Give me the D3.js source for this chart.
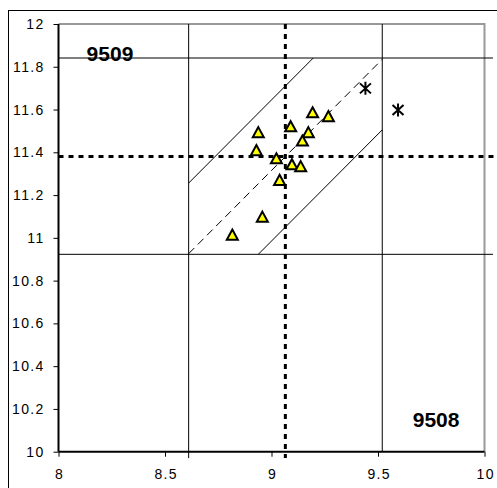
<!DOCTYPE html>
<html>
<head>
<meta charset="utf-8">
<script src="https://cdn.jsdelivr.net/npm/d3@7"></script>
<style>
    body { margin: 0; background: #fff; }
    svg { display: block; font-family: Arial, "Liberation Sans", sans-serif; }
    .axis text { font-size: 14px; letter-spacing: 1.3px; fill: #000; }
    .etiqueta { font-size: 21px; font-weight: bold; fill: #000; }
</style>
</head>
<body>
<div id="graf"></div>
<script>
// Datos
const triX = [9.193, 9.267, 9.090, 8.938, 9.173, 9.145, 8.929, 9.023, 9.096, 9.137, 9.038, 8.957, 8.816];
const triY = [11.585, 11.567, 11.520, 11.492, 11.492, 11.453, 11.408, 11.370, 11.342, 11.333, 11.269, 11.097, 11.013];
const starX = [9.441, 9.594];
const starY = [11.699, 11.598];

const meanX = 9.065;
const meanY = 11.38;
const boxX = [8.611, 9.520];
const boxY = [10.923, 11.841];
const bandOffset = 0.33;

const xTicks = [8, 8.5, 9, 9.5, 10];
const yTicks = [10, 10.2, 10.4, 10.6, 10.8, 11, 11.2, 11.4, 11.6, 11.8, 12];
const labels = [
    { text: "9509", x: 8.132, y: 11.828 },
    { text: "9508", x: 9.663, y: 10.114 },
];

// Dimensiones
const anchoTotal = 497, altoTotal = 488;
const margins = { top: 24, left: 58.5, right: 12.5, bottom: 36.3 };
const ancho = anchoTotal - margins.left - margins.right;
const alto = altoTotal - margins.top - margins.bottom;

const svg = d3.select("#graf").append("svg")
    .attr("width", anchoTotal)
    .attr("height", altoTotal);

svg.append("rect").attr("width", anchoTotal).attr("height", altoTotal).attr("fill", "#fff");
// borde exterior
svg.append("rect")
    .attr("x", 8.5).attr("y", 10.5)
    .attr("width", 600).attr("height", 600)
    .attr("fill", "none").attr("stroke", "#000").attr("stroke-width", 1);

const g = svg.append("g").attr("transform", `translate(${margins.left}, ${margins.top})`);

// Escaladores
const x = d3.scaleLinear().domain([8, 10]).range([0, ancho]);
const y = d3.scaleLinear().domain([10, 12]).range([alto, 0]);

// borde del área (gris)
g.append("path")
    .attr("d", `M0,0H${ancho}V${alto}`)
    .attr("fill", "none").attr("stroke", "#999").attr("stroke-width", 2);

const line = d3.line().x((d) => x(d[0])).y((d) => y(d[1]));

// líneas guía sólidas
const solid = [
    [[8, boxY[1]], [10.04, boxY[1]]],
    [[8, boxY[0]], [10.04, boxY[0]]],
    [[boxX[0], 12], [boxX[0], 9.97]],
    [[boxX[1], 12], [boxX[1], 10]],
];
// banda diagonal (recortada a la caja)
const c = meanY - meanX;
const clipDiag = (off) => {
    const k = c + off;
    const x0 = Math.max(boxX[0], boxY[0] - k);
    const x1 = Math.min(boxX[1], boxY[1] - k);
    return [[x0, x0 + k], [x1, x1 + k]];
};
solid.push(clipDiag(bandOffset), clipDiag(-bandOffset));

g.selectAll(".solid").data(solid).enter().append("path")
    .attr("class", "solid")
    .attr("d", line)
    .attr("fill", "none").attr("stroke", "#000").attr("stroke-width", 1);

g.append("path")
    .attr("d", line(clipDiag(0)))
    .attr("fill", "none").attr("stroke", "#000").attr("stroke-width", 1)
    .attr("stroke-dasharray", "8,5");

// medias (punteadas)
g.append("path")
    .attr("d", line([[8, meanY], [10.06, meanY]]))
    .attr("stroke", "#000").attr("stroke-width", 3).attr("stroke-dasharray", "5,5");
g.append("path")
    .attr("d", line([[meanX, 12], [meanX, 9.97]]))
    .attr("stroke", "#000").attr("stroke-width", 3).attr("stroke-dasharray", "5,5");

// Ejes
const fmt = (d) => String(+d.toFixed(1));
const yAxis = g.append("g").classed("axis", true)
    .call(d3.axisLeft(y).tickValues(yTicks).tickSize(5).tickPadding(9).tickFormat(fmt));
const xAxis = g.append("g").classed("axis", true)
    .attr("transform", `translate(0, ${alto})`)
    .call(d3.axisBottom(x).tickValues(xTicks).tickSize(5).tickPadding(12).tickFormat(fmt));
[yAxis, xAxis].forEach((a) => {
    a.select(".domain").attr("stroke", "#000").attr("stroke-width", 2);
    a.selectAll(".tick line").attr("stroke", "#000").attr("stroke-width", 1);
});
yAxis.select(".domain").attr("d", `M0,0V${alto}`);
xAxis.select(".domain").attr("d", `M0,0H${ancho}`);
xAxis.selectAll(".tick text").attr("dx", "0.65px");

// Triángulos
const triData = triX.map((v, i) => [v, triY[i]]);
g.selectAll(".tri").data(triData).enter().append("path")
    .attr("class", "tri")
    .attr("transform", (d) => `translate(${x(d[0])}, ${y(d[1])})`)
    .attr("d", "M0,-5.5L5.5,4.6L-5.5,4.6Z")
    .attr("fill", "#ffff00").attr("stroke", "#000").attr("stroke-width", 2)
    .attr("stroke-linejoin", "miter");

// Asteriscos
const starData = starX.map((v, i) => [v, starY[i]]);
g.selectAll(".star").data(starData).enter().append("path")
    .attr("class", "star")
    .attr("transform", (d) => `translate(${x(d[0])}, ${y(d[1])})`)
    .attr("d", "M0,-6.5V6.5M-5.5,-5L5.5,5M5.5,-5L-5.5,5")
    .attr("fill", "none").attr("stroke", "#000").attr("stroke-width", 2);

// Etiquetas
g.selectAll(".etiqueta").data(labels).enter().append("text")
    .attr("class", "etiqueta")
    .attr("x", (d) => x(d.x))
    .attr("y", (d) => y(d.y))
    .text((d) => d.text);
</script>
</body>
</html>
